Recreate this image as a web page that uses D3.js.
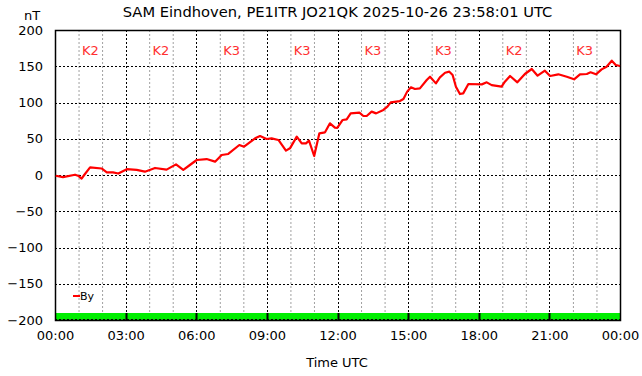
<!DOCTYPE html>
<html><head><meta charset="utf-8">
<script src="https://cdn.jsdelivr.net/npm/d3@7"></script>
<style>body{margin:0;background:#fff}svg{display:block;font-family:"DejaVu Sans",sans-serif}</style>
</head><body><svg id="c" width="642" height="376"></svg>
<script>
const title = "SAM Eindhoven, PE1ITR JO21QK 2025-10-26 23:58:01 UTC";
const hours = [0.03,0.34,0.85,0.98,1.13,1.24,1.49,1.98,2.2,2.46,2.69,3.05,3.47,3.82,4.25,4.74,5.14,5.45,5.73,6.02,6.44,6.8,7.08,7.36,7.83,8.03,8.5,8.71,8.99,9.2,9.49,9.81,9.98,10.27,10.48,10.66,10.79,11.01,11.23,11.47,11.68,11.89,11.99,12.22,12.39,12.56,12.93,13.1,13.24,13.45,13.64,13.95,14.12,14.26,14.65,14.8,14.96,15.12,15.29,15.5,15.79,15.93,16.18,16.35,16.57,16.75,16.89,17.03,17.2,17.34,17.56,18.13,18.34,18.55,18.97,19.11,19.33,19.64,19.96,20.25,20.5,20.81,21.03,21.38,21.74,22.05,22.3,22.59,22.75,22.98,23.22,23.43,23.65,23.82,24];
const byValues = [-1,-3,0.4,-1,-5,0,10.6,9,3.7,3.7,2,8,7,4.6,9.7,7.4,14.7,7,13.8,20.7,22,18.4,27.6,29,41.4,39,50.6,53.8,49.7,50.6,48.3,33.6,36.8,52.9,43.7,43.7,47.4,26.2,57.5,58.9,71.3,65.3,65,75.9,76.8,85,86,81.4,81.4,87.4,85,89.7,94.3,100.2,102,104.8,115,121,118.6,119.5,131,135.6,126.4,134.7,141,142.5,138,121.8,111.7,112.6,125.5,125,127.8,124,121.8,128.7,136.6,127.8,139.3,146.2,137,143.9,136.6,138.9,135.6,132,138.9,139.3,141.6,138.9,145.7,149.4,157.7,151.7,150.3];
const kIndex = ["K2","K2","K3","K3","K3","K3","K2","K3"];
const xTickLabels = ["00:00","03:00","06:00","09:00","12:00","15:00","18:00","21:00","00:00"];
const yTicks = [-200,-150,-100,-50,0,50,100,150,200];

const svg = d3.select("#c");
const L=55,R=620,T=30,B=320;
const x = d3.scaleLinear().domain([0,24]).range([L,R]);
const y = d3.scaleLinear().domain([-200,200]).range([B,T]);

// minor grid (hourly)
svg.append("g").selectAll("line").data(d3.range(1,24).filter(h=>h%3)).join("line")
  .attr("x1",d=>x(d)+0.5).attr("x2",d=>x(d)+0.5).attr("y1",T).attr("y2",B)
  .attr("stroke","#a0a0a0").attr("stroke-dasharray","2,2");
// major grid
svg.append("g").selectAll("line").data([3,6,9,12,15,18,21]).join("line")
  .attr("x1",d=>Math.round(x(d))+0.5).attr("x2",d=>Math.round(x(d))+0.5).attr("y1",T).attr("y2",B)
  .attr("stroke","#000").attr("stroke-dasharray","2,2");
svg.append("g").selectAll("line").data(yTicks.slice(1,-1)).join("line")
  .attr("x1",L).attr("x2",R).attr("y1",d=>Math.round(y(d))+0.5).attr("y2",d=>Math.round(y(d))+0.5)
  .attr("stroke","#000").attr("stroke-dasharray","2,2");

// green bar
svg.append("rect").attr("x",L).attr("y",313).attr("width",R-L).attr("height",B-313).attr("fill","#00ee00");
svg.append("g").selectAll("line").data([3,6,9,12,15,18,21]).join("line")
  .attr("x1",d=>Math.round(x(d))+0.5).attr("x2",d=>Math.round(x(d))+0.5).attr("y1",313).attr("y2",B)
  .attr("stroke","#000").attr("stroke-width",2);
svg.append("line").attr("x1",L).attr("x2",R).attr("y1",B-0.5).attr("y2",B-0.5)
  .attr("stroke","#000").attr("stroke-dasharray","2,2");

// frame
svg.append("rect").attr("x",L+0.5).attr("y",T+0.5).attr("width",R-L).attr("height",B-T)
  .attr("fill","none").attr("stroke","#000").attr("stroke-width",1.5);

// axes labels
const yAxis = d3.axisLeft(y).tickValues(yTicks).tickSize(0).tickPadding(12);
const ga = svg.append("g").attr("transform",`translate(${L},0)`).call(yAxis);
ga.select(".domain").remove();
ga.selectAll("text").attr("font-size",13).attr("font-family","DejaVu Sans").attr("fill","#000");
const xAxis = d3.axisBottom(x).tickValues(d3.range(0,25,3)).tickFormat((d,i)=>xTickLabels[i]).tickSize(0).tickPadding(11);
const gx = svg.append("g").attr("transform",`translate(0,${B})`).call(xAxis);
gx.select(".domain").remove();
gx.selectAll("text").attr("font-size",13).attr("font-family","DejaVu Sans").attr("fill","#000");

// K labels
svg.append("g").selectAll("text").data(kIndex).join("text")
  .attr("x",(d,i)=>x(i*3+1.5)).attr("y",55).attr("text-anchor","middle")
  .attr("font-size",13).attr("fill","#ff3030").text(d=>d);

// line
svg.append("path").datum(hours.map((h,i)=>[h,byValues[i]]))
  .attr("d",d3.line().x(d=>x(d[0])).y(d=>y(d[1])))
  .attr("fill","none").attr("stroke","#ff0000").attr("stroke-width",2.2).attr("stroke-linejoin","round");

// legend
svg.append("line").attr("x1",73).attr("x2",80).attr("y1",296).attr("y2",296).attr("stroke","#ff0000").attr("stroke-width",2);
svg.append("text").attr("x",80).attr("y",300).attr("font-size",11).text("By");

// titles
svg.append("text").attr("x",337.5).attr("y",17).attr("text-anchor","middle").attr("font-size",14.7).text(title);
svg.append("text").attr("x",32).attr("y",20).attr("text-anchor","middle").attr("font-size",13).text("nT");
svg.append("text").attr("x",337).attr("y",367).attr("text-anchor","middle").attr("font-size",13).text("Time UTC");
</script></body></html>
